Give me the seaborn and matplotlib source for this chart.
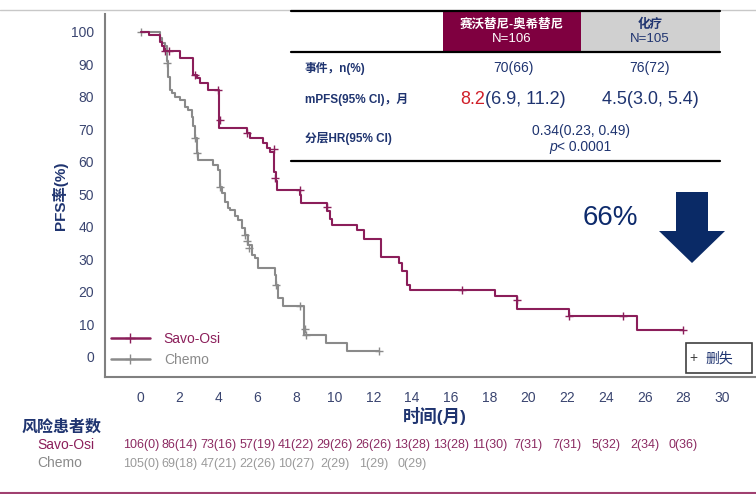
import numpy as np
import pandas as pd
import seaborn as sns
import matplotlib.pyplot as plt
from matplotlib.patches import Rectangle, Polygon
from matplotlib.lines import Line2D
from matplotlib.transforms import blended_transform_factory

# Kaplan-Meier step data (months, % progression-free)
savo_t = [0, 0.4, 1.0, 1.1, 1.2, 2.03, 2.71, 2.89, 3.06, 3.49, 4.05, 5.47, 5.64, 6.32, 6.5, 6.67,
          6.85, 6.95, 7.05, 8.2, 8.25, 9.6, 9.75, 9.85, 11.15, 11.5, 12.4, 13.3, 13.5, 13.75, 13.9,
          18.3, 19.4, 22.1, 25.6, 28.0]
savo_s = [100, 99, 97, 95.5, 94.2, 91.9, 86.8, 85.7, 84.2, 82.2, 70.4, 68.8, 67.3, 65.8, 64.3, 63.0,
          57.0, 54.0, 51.2, 49.8, 47.3, 45.0, 42.5, 40.6, 39.1, 36.2, 30.7, 28.8, 26.3, 22.2, 20.6,
          18.8, 14.7, 12.6, 8.3, 8.3]
savo_cens_t = [1.25, 1.45, 2.8, 4.0, 4.1, 5.5, 6.85, 6.93, 8.2, 9.6, 16.6, 19.4, 22.1, 24.9, 28.0]
savo_cens_s = [94.2, 94.2, 86.8, 82.2, 73.0, 68.8, 64.0, 55.0, 51.2, 46.0, 20.6, 17.5, 12.6, 12.6, 8.3]

chemo_t = [0, 1.0, 1.1, 1.25, 1.33, 1.42, 1.5, 1.6, 1.77, 2.03, 2.28, 2.45, 2.63, 2.71, 2.8, 2.88,
           2.97, 3.74, 4.0, 4.09, 4.18, 4.35, 4.52, 4.6, 4.86, 5.04, 5.21, 5.38, 5.55, 5.73, 5.9,
           6.07, 6.9, 7.0, 7.1, 7.36, 8.4, 9.56, 10.63, 12.3]
chemo_s = [100, 98, 96.5, 95.5, 91.0, 86.0, 82.2, 81.1, 80.1, 79.1, 77.0, 76.0, 73.9, 70.9, 67.3, 62.7,
           60.6, 59.1, 57.5, 52.4, 50.4, 47.8, 45.8, 45.2, 43.2, 42.2, 39.6, 37.5, 34.5, 31.4, 30.4,
           27.3, 25.2, 22.0, 18.0, 15.5, 6.8, 4.3, 1.9, 1.9]
chemo_cens_t = [0.0, 1.35, 2.8, 2.88, 4.09, 5.38, 5.5, 5.6, 7.0, 8.2, 8.45, 8.5, 12.3]
chemo_cens_s = [100, 90.5, 67.3, 62.7, 52.4, 37.5, 35.5, 33.5, 22.0, 15.5, 8.5, 6.8, 1.9]

# numbers at risk
risk_times = list(range(0, 30, 2))
savo_risk = ["106(0)", "86(14)", "73(16)", "57(19)", "41(22)", "29(26)", "26(26)", "13(28)",
             "13(28)", "11(30)", "7(31)", "7(31)", "5(32)", "2(34)", "0(36)"]
chemo_risk = ["105(0)", "69(18)", "47(21)", "22(26)", "10(27)", "2(29)", "1(29)", "0(29)"]

x_ticks = list(range(0, 32, 2))
y_ticks = list(range(0, 110, 10))

SAVO = "#8B1E5A"
CHEMO = "#8A8A8A"
NAVY = "#1F3470"
TICK = "#3A4570"

sns.set_style("white")
plt.rcParams["font.family"] = ["Liberation Sans", "Noto Sans CJK SC", "DejaVu Sans"]

W, H = 756, 494
fig = plt.figure(figsize=(W / 100, H / 100), dpi=100)


def P(x, y):
    return (x / W, 1 - y / H)


ax = fig.add_axes([105 / W, 1 - 377 / H, (W - 105) / W, (377 - 14) / H])

sav = pd.DataFrame({"t": savo_t, "s": savo_s})
che = pd.DataFrame({"t": chemo_t, "s": chemo_s})
sns.lineplot(data=che, x="t", y="s", drawstyle="steps-post", color=CHEMO, lw=1.5,
             estimator=None, ax=ax)
sns.lineplot(data=sav, x="t", y="s", drawstyle="steps-post", color=SAVO, lw=1.5,
             estimator=None, ax=ax)
sns.scatterplot(x=chemo_cens_t, y=chemo_cens_s, marker="+", s=32, color=CHEMO, linewidth=1.0, ax=ax)
sns.scatterplot(x=savo_cens_t, y=savo_cens_s, marker="+", s=32, color=SAVO, linewidth=1.0, ax=ax)

ax.set_xlim(-1.85, 31.75)
ax.set_ylim(-6.2, 105.5)
ax.set_xticks(x_ticks)
ax.set_yticks(y_ticks)
for s in ["top", "right"]:
    ax.spines[s].set_visible(False)
for s in ["left", "bottom"]:
    ax.spines[s].set_color("#808080")
    ax.spines[s].set_linewidth(1.5)
ax.tick_params(axis="both", length=5, width=1.2, color="#808080", labelsize=10, labelcolor=TICK)
ax.tick_params(axis="x", pad=5)
ax.tick_params(axis="y", pad=3)

ax.set_xlabel("时间(月)", fontsize=12.5, fontweight="bold", color=NAVY)
ax.xaxis.set_label_coords((435 - 105) / (W - 105), -(407 - 377) / (377 - 14))
ax.xaxis.label.set_va("top")
ax.set_ylabel("PFS率(%)", fontsize=11, fontweight="bold", color=NAVY)
ax.yaxis.set_label_coords(-(105 - 68) / (W - 105), 0.5)

handles = [Line2D([], [], color=SAVO, lw=1.8, marker="+", markersize=7),
           Line2D([], [], color=CHEMO, lw=1.8, marker="+", markersize=7)]
ax.legend(handles=handles, labels=["Savo-Osi", "Chemo"], labelcolor=[SAVO, CHEMO],
          loc="upper left", bbox_to_anchor=P(111, 332), bbox_transform=fig.transFigure,
          frameon=False, fontsize=10, handlelength=2.8, handletextpad=1.0, labelspacing=0.5,
          borderpad=0, borderaxespad=0)

# censor legend box
fig.add_artist(Rectangle(P(686, 373), 66 / W, 30 / H, transform=fig.transFigure,
                         facecolor="white", edgecolor="#404040", lw=1.2))
fig.text(*P(693, 358), "+", fontsize=10, color="#404040", ha="center", va="center")
fig.text(*P(705, 358), "删失", fontsize=10, color=NAVY, ha="left", va="center")

# table at top
fig.add_artist(Line2D([0, 1], [1 - 10 / H] * 2, transform=fig.transFigure, color="#C8C8C8", lw=1))
fig.add_artist(Rectangle(P(443, 52), 138 / W, 41 / H, transform=fig.transFigure,
                         facecolor="#7F0040", edgecolor="none"))
fig.add_artist(Rectangle(P(581, 52), 139 / W, 41 / H, transform=fig.transFigure,
                         facecolor="#D0D0D0", edgecolor="none"))
for yy in [11, 52, 161]:
    fig.add_artist(Line2D([291 / W, 720 / W], [1 - yy / H] * 2, transform=fig.transFigure,
                          color="black", lw=1.6))

fig.text(*P(512, 25), "赛沃替尼-奥希替尼", fontsize=9, fontweight="bold", color="white",
         ha="center", va="center")
fig.text(*P(512, 39), "N=106", fontsize=9.5, color="white", ha="center", va="center")
fig.text(*P(650, 25), "化疗", fontsize=9, fontweight="bold", color=NAVY, ha="center", va="center")
fig.text(*P(650, 39), "N=105", fontsize=9.5, color=NAVY, ha="center", va="center")

fig.text(*P(305, 68), "事件，n(%)", fontsize=8.5, fontweight="bold", color=NAVY,
         ha="left", va="center")
fig.text(*P(513, 68), "70(66)", fontsize=10, color=NAVY, ha="center", va="center")
fig.text(*P(650, 68), "76(72)", fontsize=10, color=NAVY, ha="center", va="center")

fig.text(*P(305, 99), "mPFS(95% CI)，月", fontsize=8.5, fontweight="bold", color=NAVY,
         ha="left", va="center")
fig.text(*P(485, 99), "8.2", fontsize=13, color="#D0202A", ha="right", va="center")
fig.text(*P(485, 99), "(6.9, 11.2)", fontsize=13, color=NAVY, ha="left", va="center")
fig.text(*P(650, 99), "4.5(3.0, 5.4)", fontsize=13, color=NAVY, ha="center", va="center")

fig.text(*P(305, 138), "分层HR(95% CI)", fontsize=8.5, fontweight="bold", color=NAVY,
         ha="left", va="center")
fig.text(*P(581, 131), "0.34(0.23, 0.49)", fontsize=10, color=NAVY, ha="center", va="center")
fig.text(*P(557, 147), "p", fontsize=10, color=NAVY, style="italic", ha="right", va="center")
fig.text(*P(557, 147), "< 0.0001", fontsize=10, color=NAVY, ha="left", va="center")

# 66% + arrow
fig.text(*P(610, 218), "66%", fontsize=20, color="#0D2A6B", ha="center", va="center",
         family=["Liberation Sans Narrow", "Liberation Sans"])
arrow_px = [(676, 192), (708, 192), (708, 231), (725, 231), (692, 263), (659, 231), (676, 231)]
fig.add_artist(Polygon([P(x, y) for x, y in arrow_px], closed=True, transform=fig.transFigure,
                       facecolor="#0A2A66", edgecolor="none"))

# numbers at risk
fig.text(*P(22, 427), "风险患者数", fontsize=11.5, fontweight="bold", color=NAVY,
         ha="left", va="center")
fig.text(*P(37, 445), "Savo-Osi", fontsize=10, color=SAVO, ha="left", va="center")
fig.text(*P(37, 463), "Chemo", fontsize=10, color="#8A8A8A", ha="left", va="center")
tr = blended_transform_factory(ax.transData, fig.transFigure)
for t, lab in zip(risk_times, savo_risk):
    ax.text(t, 1 - 445 / H, lab, transform=tr, fontsize=9, color="#8C2B62",
            ha="center", va="center")
for t, lab in zip(risk_times, chemo_risk):
    ax.text(t, 1 - 464 / H, lab, transform=tr, fontsize=9, color="#9A9A9A",
            ha="center", va="center")

fig.add_artist(Line2D([0, 1], [1 - 493 / H] * 2, transform=fig.transFigure, color="#A04070", lw=1.5))

fig.savefig("out.png", dpi=100)
